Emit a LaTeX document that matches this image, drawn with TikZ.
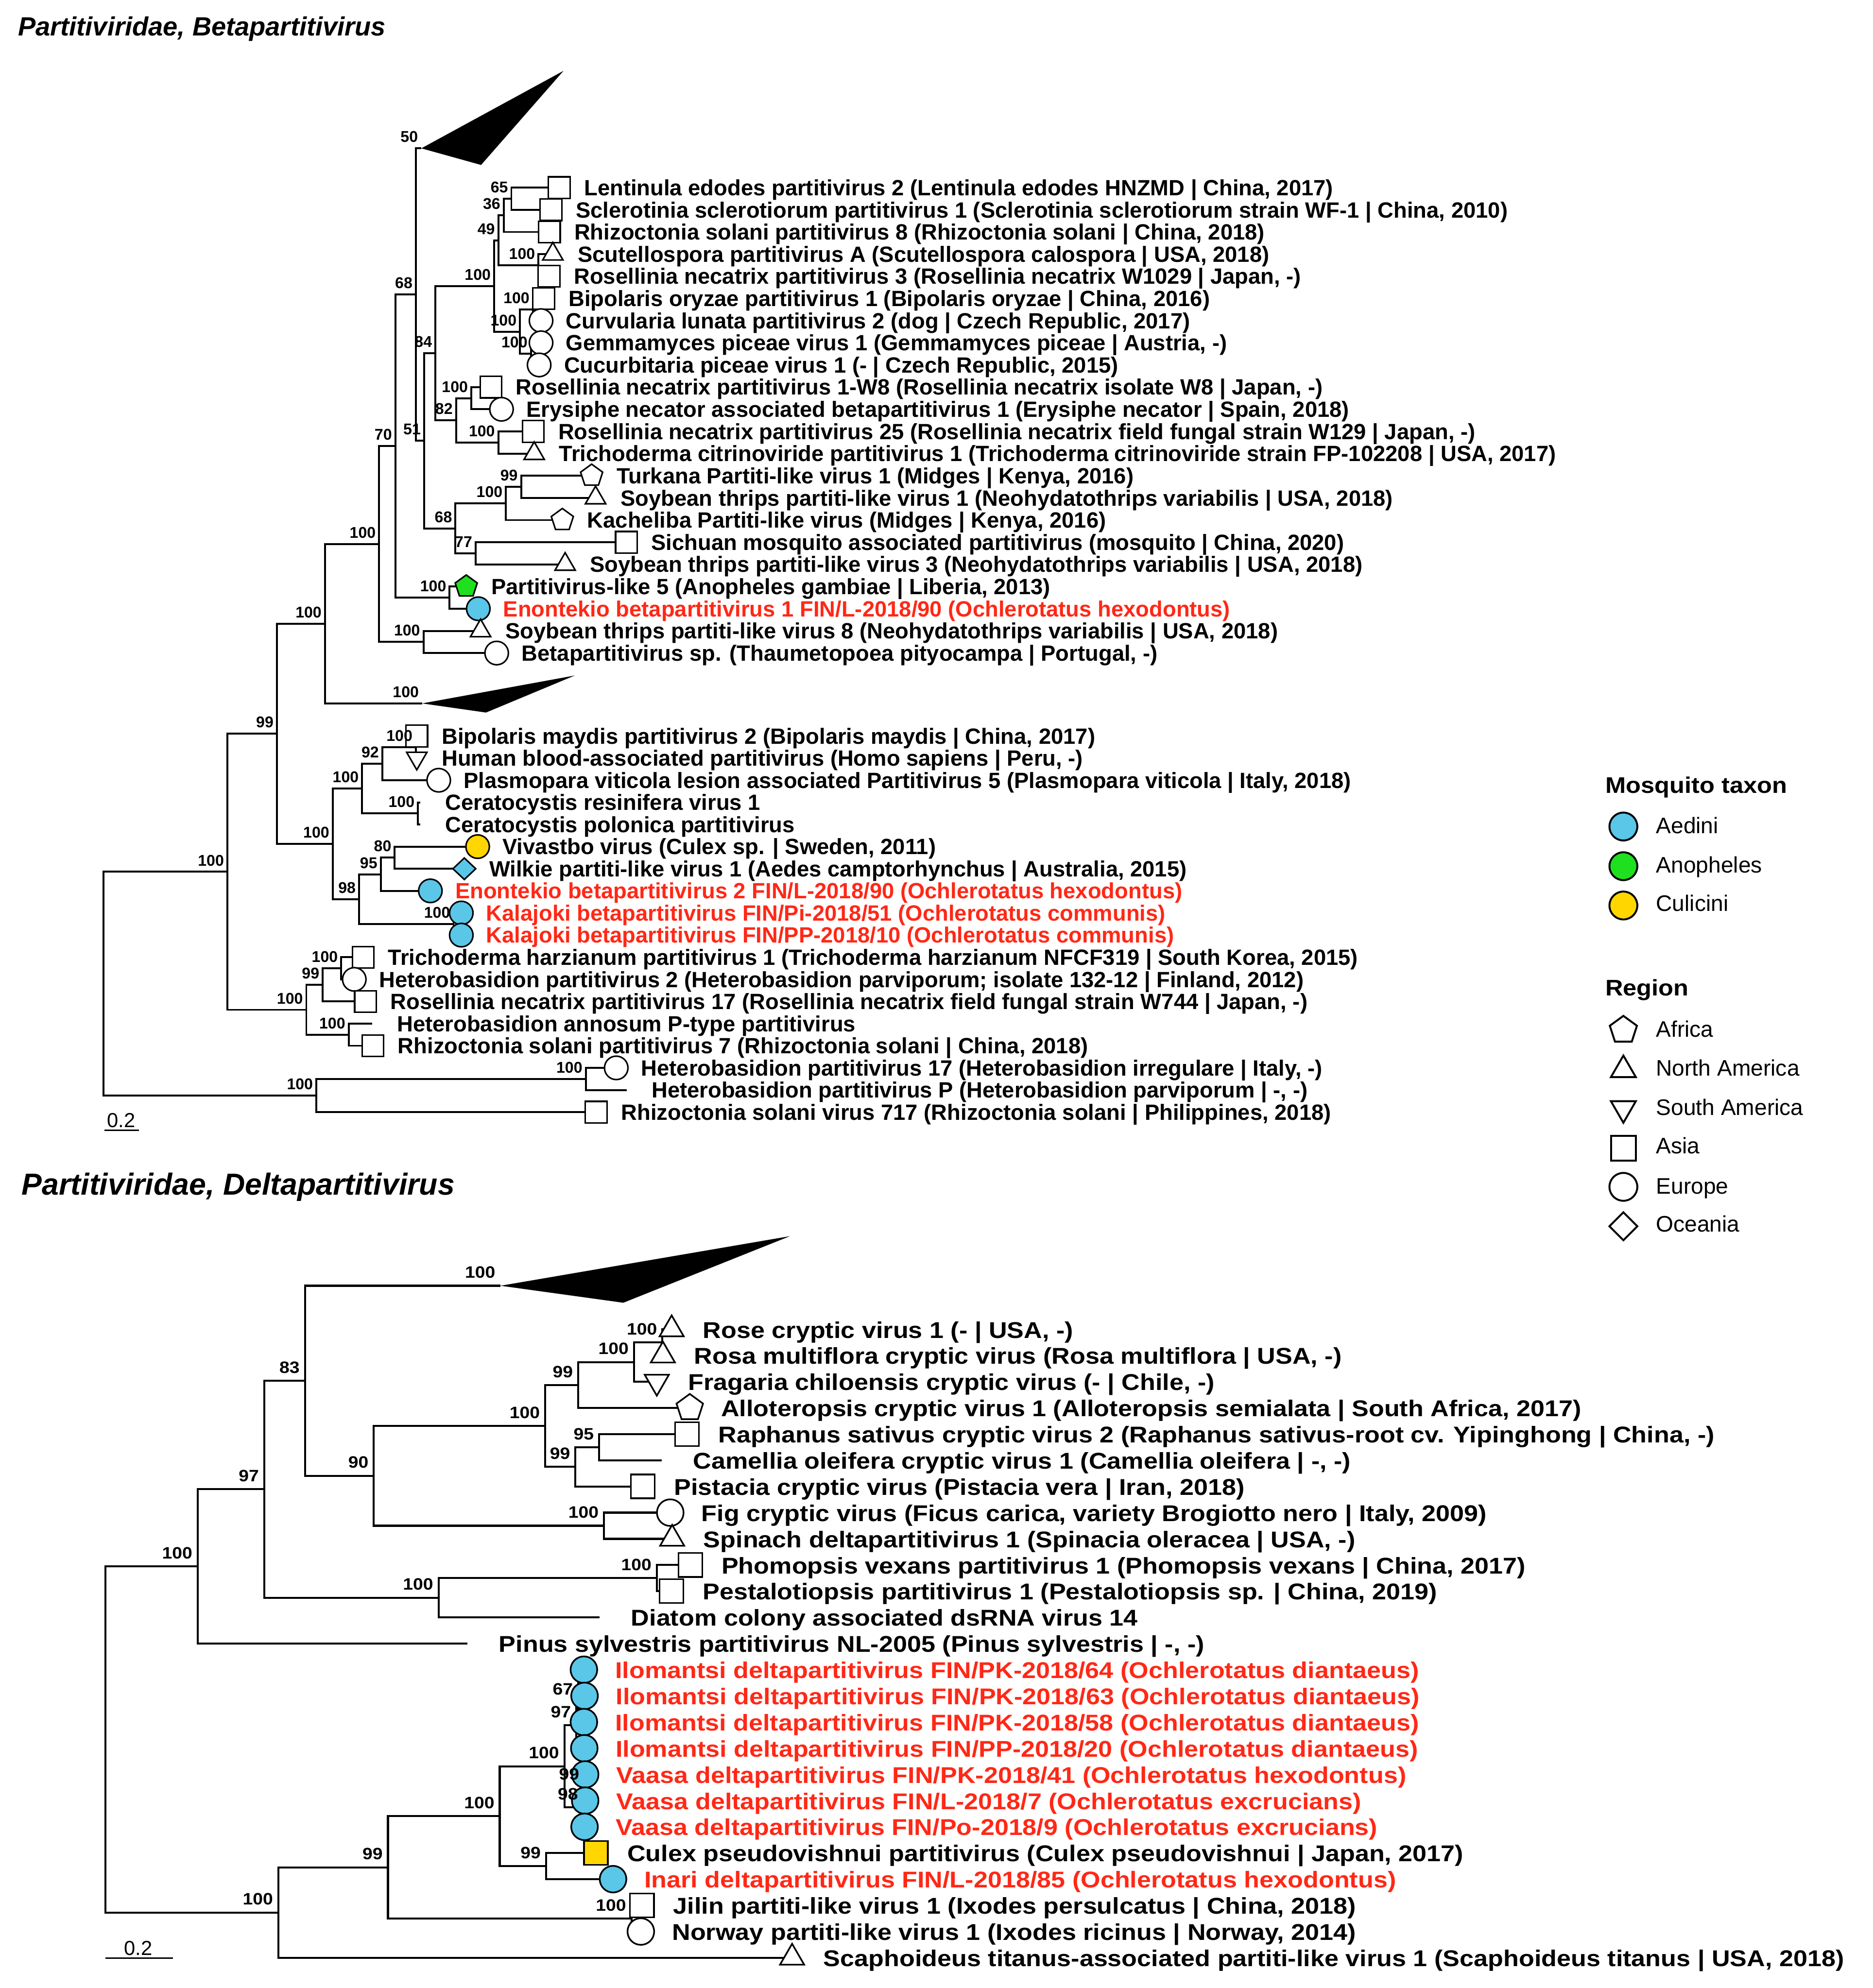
\documentclass[tikz,border=0pt]{standalone}
\usepackage{fontspec}
\setmainfont{Liberation Sans}
\usepackage{graphicx}
\usetikzlibrary{shapes.geometric}
\definecolor{aed}{RGB}{90,198,232}
\definecolor{ano}{RGB}{30,224,30}
\definecolor{cul}{RGB}{255,214,0}
\definecolor{redt}{RGB}{255,40,22}
\newcommand\hst[1]{\scalebox{1.11}[1]{#1}}
\newcommand\hsb[1]{\scalebox{1.1}[1]{#1}}
\begin{document}
\begin{tikzpicture}[x=1pt,y=-1pt,
 brn/.style={line width=1.5pt, line join=miter},
 brl/.style={line width=1.6pt, line join=miter},
 sym/.style={draw, fill=white, line width=1.2pt, inner sep=0pt, outer sep=0pt},
 sq/.style={sym, rectangle, minimum size=17pt},
 ci/.style={sym, circle, minimum size=18.5pt},
 tu/.style={sym, regular polygon, regular polygon sides=3, minimum size=18.5pt},
 td/.style={tu, shape border rotate=180},
 pe/.style={sym, regular polygon, regular polygon sides=5, minimum size=18.3pt},
 di/.style={sym, diamond, minimum width=18pt, minimum height=17pt},
 Lsq/.style={sym, line width=1.3pt, rectangle, minimum size=18.8pt},
 Lci/.style={sym, line width=1.3pt, circle, minimum size=21pt},
 Ltu/.style={sym, line width=1.3pt, regular polygon, regular polygon sides=3, minimum size=22pt},
 Ltd/.style={Ltu, shape border rotate=180},
 Lpe/.style={sym, line width=1.3pt, regular polygon, regular polygon sides=5, minimum size=22pt},
 gsym/.style={draw, line width=1.5pt, inner sep=0pt, outer sep=0pt, fill=white},
 utx/.style={anchor=base west, inner sep=0pt, xshift=19.5pt, yshift=-6.2pt, font=\fontsize{17.4}{20}\selectfont\bfseries},
 ltx/.style={anchor=base west, inner sep=0pt, xshift=24.5pt, yshift=-6.8pt, font=\fontsize{18}{21}\selectfont\bfseries},
 rd/.style={text=redt},
 bsu/.style={anchor=east, inner sep=0pt, xshift=-2.5pt, yshift=9pt, font=\fontsize{12.3}{14}\selectfont\bfseries},
 bsl/.style={anchor=east, inner sep=0pt, xshift=-4pt, yshift=10.5pt, font=\fontsize{13}{15}\selectfont\bfseries},
 lgt/.style={anchor=base west, inner sep=0pt, font=\fontsize{17.7}{20}\selectfont},
 lgh/.style={anchor=base west, inner sep=0pt, font=\fontsize{17.8}{20}\selectfont\bfseries},
 ttl/.style={anchor=base west, inner sep=0pt},
 sbt/.style={anchor=base, inner sep=0pt, font=\fontsize{16}{18}\selectfont}
]
\useasboundingbox (0,0) rectangle (1477,1568);
\fill[white] (0,0) rectangle (1477,1568);

% ---------------- upper tree: tips ----------------
\coordinate (u0) at (441,148);
\coordinate (u1) at (434.5,165.48);
\coordinate (u2) at (433.3,182.96);
\coordinate (u3) at (436,200.44);
\coordinate (u4) at (433,217.92);
\coordinate (u5) at (428.8,235.4);
\coordinate (u6) at (426.7,252.88);
\coordinate (u7) at (426.7,270.36);
\coordinate (u8) at (425.2,287.84);
\coordinate (u9) at (387.2,305.32);
\coordinate (u10) at (395.5,322.8);
\coordinate (u11) at (420.6,340.28);
\coordinate (u12) at (421.3,357.76);
\coordinate (u13) at (466.6,375.24);
\coordinate (u14) at (469.7,392.72);
\coordinate (u15) at (443.5,410.2);
\coordinate (u16) at (494,427.68);
\coordinate (u17) at (445.7,445.16);
\coordinate (u18) at (367.7,462.64);
\coordinate (u19) at (377.2,480.12);
\coordinate (u20) at (379,497.6);
\coordinate (u21) at (391.7,515.08);
\coordinate (v0) at (328.7,580.5);
\coordinate (v1) at (328.7,597.95);
\coordinate (v2) at (346,615.4);
\coordinate (v3) at (331.5,632.85);
\coordinate (v4) at (331.5,650.3);
\coordinate (v5) at (376.7,667.75);
\coordinate (v6) at (366.2,685.2);
\coordinate (v7) at (339.4,702.65);
\coordinate (v8) at (363.8,720.1);
\coordinate (v9) at (363.8,737.55);
\coordinate (v10) at (286.4,755);
\coordinate (v11) at (279.4,772.45);
\coordinate (v12) at (288.2,789.9);
\coordinate (v13) at (293.5,807.35);
\coordinate (v14) at (294.1,824.8);
\coordinate (v15) at (486,842.25);
\coordinate (v16) at (494.3,859.7);
\coordinate (v17) at (470.2,877.15);
% internal nodes
\coordinate (S) at (403.3,156.74);
\coordinate (K) at (397.3,169.85);
\coordinate (ScR) at (424.7,209.18);
\coordinate (I) at (393,189.52);
\coordinate (J1) at (420.3,244.14);
\coordinate (J2) at (418.7,279.1);
\coordinate (J) at (410.1,261.62);
\coordinate (G) at (389.7,225.57);
\coordinate (L) at (371.7,314.06);
\coordinate (M) at (393,349.02);
\coordinate (H) at (359.7,331.54);
\coordinate (E) at (343.4,278.56);
\coordinate (Q) at (411,383.98);
\coordinate (P) at (399,397.09);
\coordinate (R) at (375.1,436.42);
\coordinate (F) at (359.2,416.76);
\coordinate (D) at (334.5,347.66);
\coordinate (ta1) at (332.3,117);
\coordinate (C) at (328,232.33);
\coordinate (N) at (354.6,471.38);
\coordinate (B) at (311.8,351.86);
\coordinate (O) at (334,506.34);
\coordinate (A) at (299,429.1);
\coordinate (ta2) at (333,554.8);
\coordinate (T) at (256.3,491.95);
\coordinate (Y) at (328,589.23);
\coordinate (X) at (301.5,602.31);
\coordinate (Z) at (329.6,641.58);
\coordinate (W) at (285.6,621.95);
\coordinate (AC) at (311.3,676.48);
\coordinate (AB) at (300.3,689.56);
\coordinate (AD) at (357.7,728.83);
\coordinate (AA) at (283.2,709.2);
\coordinate (V) at (262.4,665.57);
\coordinate (U) at (218.4,578.76);
\coordinate (AE) at (269.1,763.73);
\coordinate (AG) at (254.5,776.81);
\coordinate (AH) at (275,816.08);
\coordinate (AF) at (241.6,796.45);
\coordinate (RT1) at (179.3,687.6);
\coordinate (AJ) at (462,850.98);
\coordinate (AI) at (249.5,864.06);
\coordinate (RT0) at (81.5,775.83);

\foreach \p/\c in {S/u0,S/u1,K/S,K/u2,ScR/u3,ScR/u4,I/K,I/ScR,J1/u5,J1/u6,J2/u7,J2/u8,J/J1,J/J2,G/I,G/J,
  L/u9,L/u10,M/u11,M/u12,H/L,H/M,E/G,E/H,Q/u13,Q/u14,P/Q,P/u15,R/u16,R/u17,F/P,F/R,D/E,D/F,C/ta1,C/D,
  N/u18,N/u19,B/C,B/N,O/u20,O/u21,A/B,A/O,T/A,T/ta2,Y/v0,Y/v1,X/Y,X/v2,Z/v3,Z/v4,W/X,W/Z,
  AC/v5,AC/v6,AB/AC,AB/v7,AD/v8,AD/v9,AA/AB,AA/AD,V/W,V/AA,U/T,U/V,AE/v10,AE/v11,AG/AE,AG/v12,
  AH/v13,AH/v14,AF/AG,AF/AH,RT1/U,RT1/AF,AJ/v15,AJ/v16,AI/AJ,AI/v17,RT0/RT1,RT0/AI}
  \draw[brn] (\p) |- (\c);

% collapsed clades
\coordinate (ta1b) at (444.4,55.9);
\coordinate (ta1c) at (379.4,130.1);
\coordinate (ta2b) at (453.3,532.8);
\coordinate (ta2c) at (383.3,562);
\fill[black] (ta1) -- (ta1b) -- (ta1c) -- cycle;
\fill[black] (ta2) -- (ta2b) -- (ta2c) -- cycle;

% symbols upper
\node[sq] (s0) at (u0) {};
\node[sq] (s1) at (u1) {};
\node[sq] (s2) at (u2) {};
\node[tu] (s3) at (u3) {};
\node[sq] (s4) at (u4) {};
\node[sq] (s5) at (u5) {};
\node[ci] (s6) at (u6) {};
\node[ci] (s7) at (u7) {};
\node[ci] (s8) at (u8) {};
\node[sq] (s9) at (u9) {};
\node[ci] (s10) at (u10) {};
\node[sq] (s11) at (u11) {};
\node[tu] (s12) at (u12) {};
\node[pe] (s13) at (u13) {};
\node[tu] (s14) at (u14) {};
\node[pe] (s15) at (u15) {};
\node[sq] (s16) at (u16) {};
\node[tu] (s17) at (u17) {};
\node[pe, fill=ano] (s18) at (u18) {};
\node[ci, fill=aed] (s19) at (u19) {};
\node[tu] (s20) at (u20) {};
\node[ci] (s21) at (u21) {};
\node[sq] (r0) at (v0) {};
\node[td] (r1) at (v1) {};
\node[ci] (r2) at (v2) {};
\node[ci, fill=cul] (r5) at (v5) {};
\node[di, fill=aed] (r6) at (v6) {};
\node[ci, fill=aed] (r7) at (v7) {};
\node[ci, fill=aed] (r8) at (v8) {};
\node[ci, fill=aed] (r9) at (v9) {};
\node[sq] (r10) at (v10) {};
\node[ci] (r11) at (v11) {};
\node[sq] (r12) at (v12) {};
\node[sq] (r14) at (v14) {};
\node[ci] (r15) at (v15) {};
\node[sq] (r17) at (v17) {};

% tip texts upper
\node[utx] (x0) at (u0) {Lentinula edodes partitivirus 2 (Lentinula edodes HNZMD | China, 2017)};
\node[utx] (x1) at (u1) {Sclerotinia sclerotiorum partitivirus 1 (Sclerotinia sclerotiorum strain WF-1 | China, 2010)};
\node[utx] (x2) at (u2) {Rhizoctonia solani partitivirus 8 (Rhizoctonia solani | China, 2018)};
\node[utx] (x3) at (u3) {Scutellospora partitivirus A (Scutellospora calospora | USA, 2018)};
\node[utx] (x4) at (u4) {Rosellinia necatrix partitivirus 3 (Rosellinia necatrix W1029 | Japan, -)};
\node[utx] (x5) at (u5) {Bipolaris oryzae partitivirus 1 (Bipolaris oryzae | China, 2016)};
\node[utx] (x6) at (u6) {Curvularia lunata partitivirus 2 (dog | Czech Republic, 2017)};
\node[utx] (x7) at (u7) {Gemmamyces piceae virus 1 (Gemmamyces piceae | Austria, -)};
\node[utx] (x8) at (u8) {Cucurbitaria piceae virus 1 (- | Czech Republic, 2015)};
\node[utx] (x9) at (u9) {Rosellinia necatrix partitivirus 1-W8 (Rosellinia necatrix isolate W8 | Japan, -)};
\node[utx] (x10) at (u10) {Erysiphe necator associated betapartitivirus 1 (Erysiphe necator | Spain, 2018)};
\node[utx] (x11) at (u11) {Rosellinia necatrix partitivirus 25 (Rosellinia necatrix field fungal strain W129 | Japan, -)};
\node[utx] (x12) at (u12) {Trichoderma citrinoviride partitivirus 1 (Trichoderma citrinoviride strain FP-102208 | USA, 2017)};
\node[utx] (x13) at (u13) {Turkana Partiti-like virus 1 (Midges | Kenya, 2016)};
\node[utx] (x14) at (u14) {Soybean thrips partiti-like virus 1 (Neohydatothrips variabilis | USA, 2018)};
\node[utx] (x15) at (u15) {Kacheliba Partiti-like virus (Midges | Kenya, 2016)};
\node[utx] (x16) at (u16) {Sichuan mosquito associated partitivirus (mosquito | China, 2020)};
\node[utx] (x17) at (u17) {Soybean thrips partiti-like virus 3 (Neohydatothrips variabilis | USA, 2018)};
\node[utx] (x18) at (u18) {Partitivirus-like 5 (Anopheles gambiae | Liberia, 2013)};
\node[utx, rd] (x19) at (u19) {Enontekio betapartitivirus 1 FIN/L-2018/90 (Ochlerotatus hexodontus)};
\node[utx] (x20) at (u20) {Soybean thrips partiti-like virus 8 (Neohydatothrips variabilis | USA, 2018)};
\node[utx] (x21) at (u21) {Betapartitivirus sp. (Thaumetopoea pityocampa | Portugal, -)};
\node[utx] (y0) at (v0) {Bipolaris maydis partitivirus 2 (Bipolaris maydis | China, 2017)};
\node[utx] (y1) at (v1) {Human blood-associated partitivirus (Homo sapiens | Peru, -)};
\node[utx] (y2) at (v2) {Plasmopara viticola lesion associated Partitivirus 5 (Plasmopara viticola | Italy, 2018)};
\node[utx] (y3) at (v3) {Ceratocystis resinifera virus 1};
\node[utx] (y4) at (v4) {Ceratocystis polonica partitivirus};
\node[utx] (y5) at (v5) {Vivastbo virus (Culex sp. | Sweden, 2011)};
\node[utx] (y6) at (v6) {Wilkie partiti-like virus 1 (Aedes camptorhynchus | Australia, 2015)};
\node[utx, rd] (y7) at (v7) {Enontekio betapartitivirus 2 FIN/L-2018/90 (Ochlerotatus hexodontus)};
\node[utx, rd] (y8) at (v8) {Kalajoki betapartitivirus FIN/Pi-2018/51 (Ochlerotatus communis)};
\node[utx, rd] (y9) at (v9) {Kalajoki betapartitivirus FIN/PP-2018/10 (Ochlerotatus communis)};
\node[utx] (y10) at (v10) {Trichoderma harzianum partitivirus 1 (Trichoderma harzianum NFCF319 | South Korea, 2015)};
\node[utx] (y11) at (v11) {Heterobasidion partitivirus 2 (Heterobasidion parviporum; isolate 132-12 | Finland, 2012)};
\node[utx] (y12) at (v12) {Rosellinia necatrix partitivirus 17 (Rosellinia necatrix field fungal strain W744 | Japan, -)};
\node[utx] (y13) at (v13) {Heterobasidion annosum P-type partitivirus};
\node[utx] (y14) at (v14) {Rhizoctonia solani partitivirus 7 (Rhizoctonia solani | China, 2018)};
\node[utx] (y15) at (v15) {Heterobasidion partitivirus 17 (Heterobasidion irregulare | Italy, -)};
\node[utx] (y16) at (v16) {Heterobasidion partitivirus P (Heterobasidion parviporum | -, -)};
\node[utx] (y17) at (v17) {Rhizoctonia solani virus 717 (Rhizoctonia solani | Philippines, 2018)};

% bootstrap upper
\foreach \n/\t in {S/65,K/36,ScR/100,I/49,J1/100,J2/100,J/100,G/100,L/100,M/100,H/82,E/84,Q/99,P/100,
  R/77,F/68,D/51,ta1/50,C/68,N/100,B/70,O/100,A/100,ta2/100,T/100,Y/100,X/92,Z/100,W/100,AC/80,AB/95,
  AD/100,AA/98,V/100,U/99,AE/100,AG/99,AH/100,AF/100,RT1/100,AJ/100,AI/100}
  \node[bsu] (b\n) at (\n) {\t};

% scale bar upper
\coordinate (sb1a) at (82.4,891.4);
\coordinate (sb1b) at (109.7,891.4);
\draw[line width=1.3pt] (sb1a) -- (sb1b);
\node[sbt] (sbt1) at (95.5,889.3) {0.2};

% titles
\node[ttl, font=\fontsize{20.8}{24}\selectfont\bfseries\itshape] (title1) at (14,28.1) {Partitiviridae, Betapartitivirus};
\node[ttl, font=\fontsize{24}{28}\selectfont\bfseries\itshape] (title2) at (17,942.5) {Partitiviridae, Deltapartitivirus};

% ---------------- lower tree ----------------
\coordinate (w0) at (529.7,1048.5);
\coordinate (w1) at (522.8,1069.15);
\coordinate (w2) at (518,1089.8);
\coordinate (w3) at (544,1110.45);
\coordinate (w4) at (541.8,1131.1);
\coordinate (w5) at (522,1151.75);
\coordinate (w6) at (507,1172.4);
\coordinate (w7) at (528.6,1193.05);
\coordinate (w8) at (530.1,1213.7);
\coordinate (w9) at (544.4,1234.35);
\coordinate (w10) at (529.5,1255);
\coordinate (w11) at (473,1275.65);
\coordinate (w12) at (368.8,1296.3);
\coordinate (w13) at (460.5,1316.95);
\coordinate (w14) at (461,1337.6);
\coordinate (w15) at (460.5,1358.25);
\coordinate (w16) at (460.8,1378.9);
\coordinate (w17) at (461.5,1399.55);
\coordinate (w18) at (461.5,1420.2);
\coordinate (w19) at (461,1440.85);
\coordinate (w20) at (470,1461.5);
\coordinate (w21) at (483.5,1482.15);
\coordinate (w22) at (506.3,1502.8);
\coordinate (w23) at (505.4,1523.45);
\coordinate (w24) at (624.7,1544.1);
\coordinate (LF) at (522.4,1058.83);
\coordinate (LE) at (500,1074.3);
\coordinate (LD) at (456,1092.4);
\coordinate (LH) at (472.5,1141.43);
\coordinate (LG) at (453.8,1156.9);
\coordinate (LC) at (430,1124.65);
\coordinate (LI) at (476.3,1203.38);
\coordinate (LB) at (294.8,1164);
\coordinate (ta3) at (394.8,1014.1);
\coordinate (LA) at (240.5,1089.05);
\coordinate (LK) at (518,1244.68);
\coordinate (LJ) at (345.9,1260.16);
\coordinate (LL) at (208.4,1174.6);
\coordinate (LM) at (155.9,1235.45);
\coordinate (Z0) at (458,1327.28);
\coordinate (N67) at (456,1342.76);
\coordinate (N97) at (454.5,1360.83);
\coordinate (N99) at (461,1409.88);
\coordinate (N98) at (460,1425.36);
\coordinate (LT) at (445.1,1393.1);
\coordinate (LS) at (430.6,1471.83);
\coordinate (LQ) at (394.1,1432.46);
\coordinate (LP) at (498,1513.13);
\coordinate (LO) at (306,1472.8);
\coordinate (LN) at (219.5,1508.45);
\coordinate (LR) at (83,1371.95);

\foreach \p/\c in {LF/w0,LF/w1,LE/LF,LE/w2,LD/LE,LD/w3,LH/w4,LH/w5,LG/LH,LG/w6,LC/LD,LC/LG,LI/w7,LI/w8,
  LB/LC,LB/LI,LA/ta3,LA/LB,LK/w9,LK/w10,LJ/LK,LJ/w11,LL/LA,LL/LJ,LM/LL,LM/w12,Z0/w13,Z0/w14,N67/Z0,N67/w15,
  N97/N67,N97/w16,N99/w17,N99/w18,N98/N99,N98/w19,LT/N97,LT/N98,LS/w20,LS/w21,LQ/LT,LQ/LS,LP/w22,LP/w23,
  LO/LQ,LO/LP,LN/LO,LN/w24,LR/LM,LR/LN}
  \draw[brl] (\p) |- (\c);

\coordinate (ta3b) at (623,975);
\coordinate (ta3c) at (491.6,1027.5);
\fill[black] (ta3) -- (ta3b) -- (ta3c) -- cycle;

% symbols lower
\node[Ltu] (q0) at (w0) {};
\node[Ltu] (q1) at (w1) {};
\node[Ltd] (q2) at (w2) {};
\node[Lpe] (q3) at (w3) {};
\node[Lsq] (q4) at (w4) {};
\node[Lsq] (q6) at (w6) {};
\node[Lci] (q7) at (w7) {};
\node[Ltu] (q8) at (w8) {};
\node[Lsq] (q9) at (w9) {};
\node[Lsq] (q10) at (w10) {};
\node[Lci, fill=aed] (q13) at (w13) {};
\node[Lci, fill=aed] (q14) at (w14) {};
\node[Lci, fill=aed] (q15) at (w15) {};
\node[Lci, fill=aed] (q16) at (w16) {};
\node[Lci, fill=aed] (q17) at (w17) {};
\node[Lci, fill=aed] (q18) at (w18) {};
\node[Lci, fill=aed] (q19) at (w19) {};
\node[Lsq, fill=cul] (q20) at (w20) {};
\node[Lci, fill=aed] (q21) at (w21) {};
\node[Lsq] (q22) at (w22) {};
\node[Lci] (q23) at (w23) {};
\node[Ltu] (q24) at (w24) {};

% tip texts lower
\node[ltx] (z0) at (w0) {\hst{Rose cryptic virus 1 (- | USA, -)}};
\node[ltx] (z1) at (w1) {\hst{Rosa multiflora cryptic virus (Rosa multiflora | USA, -)}};
\node[ltx] (z2) at (w2) {\hst{Fragaria chiloensis cryptic virus (- | Chile, -)}};
\node[ltx] (z3) at (w3) {\hst{Alloteropsis cryptic virus 1 (Alloteropsis semialata | South Africa, 2017)}};
\node[ltx] (z4) at (w4) {\hst{Raphanus sativus cryptic virus 2 (Raphanus sativus-root cv. Yipinghong | China, -)}};
\node[ltx] (z5) at (w5) {\hst{Camellia oleifera cryptic virus 1 (Camellia oleifera | -, -)}};
\node[ltx] (z6) at (w6) {\hst{Pistacia cryptic virus (Pistacia vera | Iran, 2018)}};
\node[ltx] (z7) at (w7) {\hst{Fig cryptic virus (Ficus carica, variety Brogiotto nero | Italy, 2009)}};
\node[ltx] (z8) at (w8) {\hst{Spinach deltapartitivirus 1 (Spinacia oleracea | USA, -)}};
\node[ltx] (z9) at (w9) {\hst{Phomopsis vexans partitivirus 1 (Phomopsis vexans | China, 2017)}};
\node[ltx] (z10) at (w10) {\hst{Pestalotiopsis partitivirus 1 (Pestalotiopsis sp. | China, 2019)}};
\node[ltx] (z11) at (w11) {\hst{Diatom colony associated dsRNA virus 14}};
\node[ltx] (z12) at (w12) {\hst{Pinus sylvestris partitivirus NL-2005 (Pinus sylvestris | -, -)}};
\node[ltx, rd] (z13) at (w13) {\hst{Ilomantsi deltapartitivirus FIN/PK-2018/64 (Ochlerotatus diantaeus)}};
\node[ltx, rd] (z14) at (w14) {\hst{Ilomantsi deltapartitivirus FIN/PK-2018/63 (Ochlerotatus diantaeus)}};
\node[ltx, rd] (z15) at (w15) {\hst{Ilomantsi deltapartitivirus FIN/PK-2018/58 (Ochlerotatus diantaeus)}};
\node[ltx, rd] (z16) at (w16) {\hst{Ilomantsi deltapartitivirus FIN/PP-2018/20 (Ochlerotatus diantaeus)}};
\node[ltx, rd] (z17) at (w17) {\hst{Vaasa deltapartitivirus FIN/PK-2018/41 (Ochlerotatus hexodontus)}};
\node[ltx, rd] (z18) at (w18) {\hst{Vaasa deltapartitivirus FIN/L-2018/7 (Ochlerotatus excrucians)}};
\node[ltx, rd] (z19) at (w19) {\hst{Vaasa deltapartitivirus FIN/Po-2018/9 (Ochlerotatus excrucians)}};
\node[ltx] (z20) at (w20) {\hst{Culex pseudovishnui partitivirus (Culex pseudovishnui | Japan, 2017)}};
\node[ltx, rd] (z21) at (w21) {\hst{Inari deltapartitivirus FIN/L-2018/85 (Ochlerotatus hexodontus)}};
\node[ltx] (z22) at (w22) {\hst{Jilin partiti-like virus 1 (Ixodes persulcatus | China, 2018)}};
\node[ltx] (z23) at (w23) {\hst{Norway partiti-like virus 1 (Ixodes ricinus | Norway, 2014)}};
\node[ltx] (z24) at (w24) {\hst{Scaphoideus titanus-associated partiti-like virus 1 (Scaphoideus titanus | USA, 2018)}};

% bootstrap lower
\foreach \n/\t in {LF/100,LE/100,LD/99,LH/95,LG/99,LC/100,LI/100,LB/90,ta3/100,LA/83,LK/100,LJ/100,
  LL/97,LM/100,N67/67,N97/97,N99/99,N98/98,LT/100,LS/99,LQ/100,LP/100,LO/99,LN/100}
  \node[bsl] (b\n) at (\n) {\hsb{\t}};

% scale bar lower
\coordinate (sb2a) at (83.2,1544.3);
\coordinate (sb2b) at (136.4,1544.3);
\draw[line width=1.3pt] (sb2a) -- (sb2b);
\node[sbt] (sbt2) at (109,1542) {0.2};

% ---------------- legend ----------------
\node[lgh] (lgh1) at (1265.9,625.6) {\scalebox{1.09}[1]{Mosquito taxon}};
\node[gsym, circle, minimum size=22pt, fill=aed] (g1) at (1280.3,651.9) {};
\node[gsym, circle, minimum size=22pt, fill=ano] (g2) at (1280.3,683.2) {};
\node[gsym, circle, minimum size=22pt, fill=cul] (g3) at (1280.3,714.2) {};
\node[lgt] (gt1) at (1305.9,657.4) {Aedini};
\node[lgt] (gt2) at (1305.9,688.3) {Anopheles};
\node[lgt] (gt3) at (1305.9,718.8) {Culicini};
\node[lgh] (lgh2) at (1265.9,785.4) {\scalebox{1.09}[1]{Region}};
\node[gsym, regular polygon, regular polygon sides=5, minimum size=22.5pt] (g4) at (1280.3,812.5) {};
\node[gsym, regular polygon, regular polygon sides=3, minimum size=22.7pt] (g5) at (1280.3,843.9) {};
\node[gsym, regular polygon, regular polygon sides=3, shape border rotate=180, minimum size=22.7pt] (g6) at (1280.3,874.2) {};
\node[gsym, rectangle, minimum size=19.5pt] (g7) at (1280.3,905.6) {};
\node[gsym, circle, minimum size=22pt] (g8) at (1280.3,936.1) {};
\node[gsym, diamond, minimum width=22pt, minimum height=22pt] (g9) at (1280.3,967.2) {};
\node[lgt] (gt4) at (1305.9,817.8) {Africa};
\node[lgt] (gt5) at (1305.9,848.4) {North America};
\node[lgt] (gt6) at (1305.9,879.7) {South America};
\node[lgt] (gt7) at (1305.9,910) {Asia};
\node[lgt] (gt8) at (1305.9,941.7) {Europe};
\node[lgt] (gt9) at (1305.9,971.7) {Oceania};
\end{tikzpicture}
\end{document}
